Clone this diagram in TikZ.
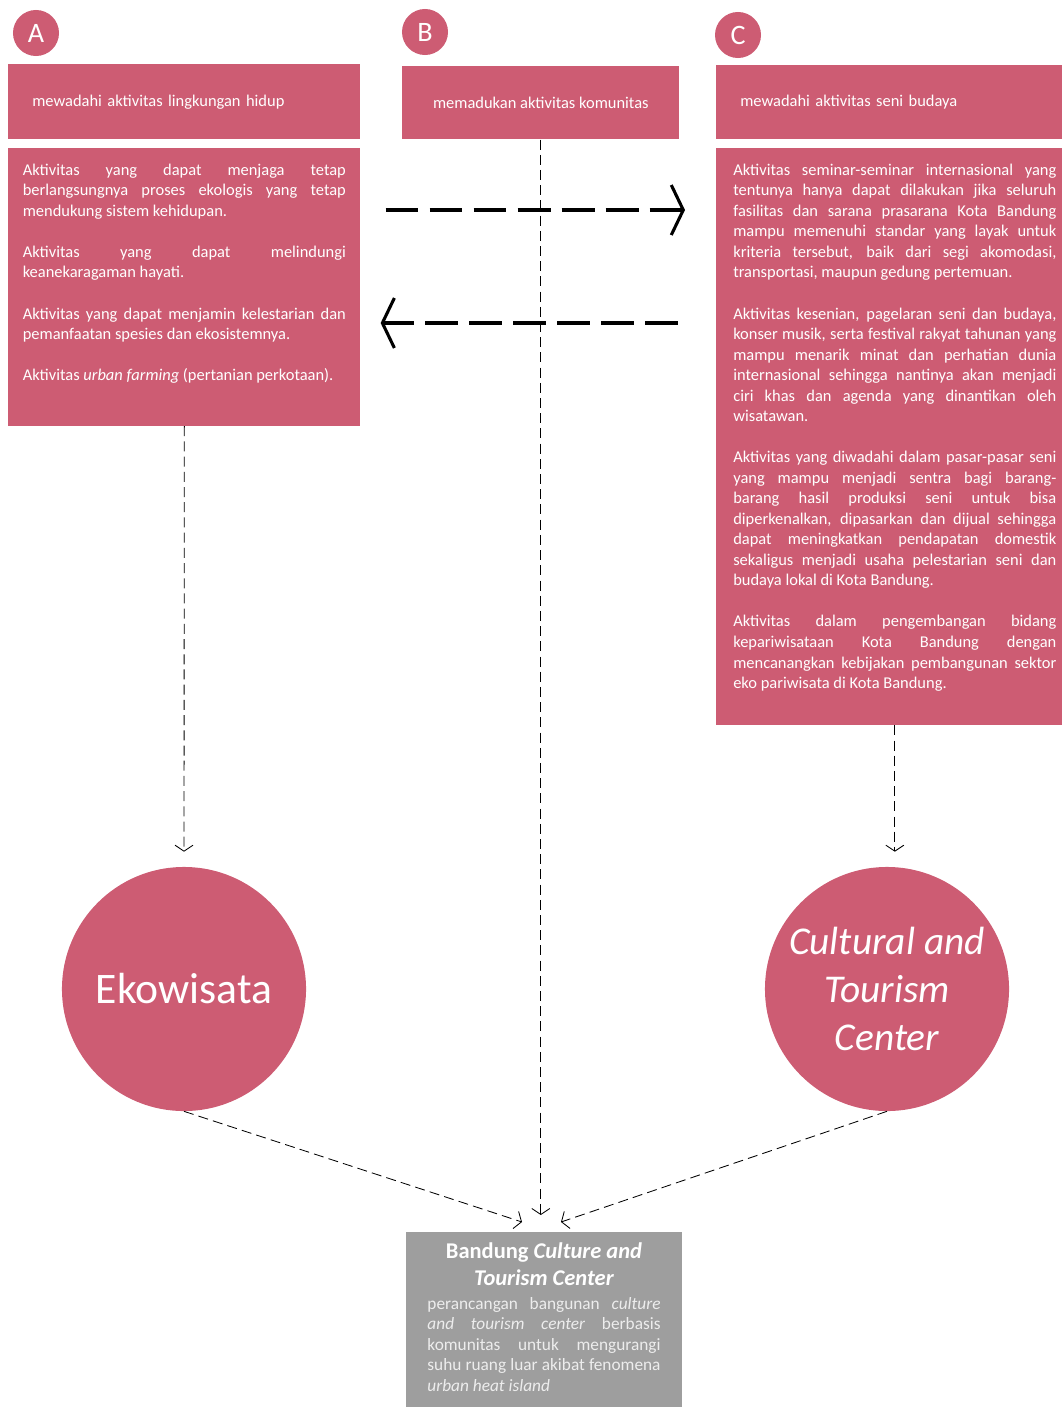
\documentclass[tikz,border=0pt]{standalone}
\usepackage{fontspec}
\setmainfont{Carlito}
\usepackage{xcolor}
\usepackage{tikz}
\usetikzlibrary{arrows.meta,positioning}
\definecolor{merah}{RGB}{205,92,115}
\definecolor{abu}{RGB}{158,158,158}
\begin{document}
\begin{tikzpicture}[x=0.025cm,y=-0.025cm,node distance=0.2cm]
\tikzstyle{huruf}=[circle,fill=merah,text=white,minimum size=1.15cm,inner sep=0pt,font=\fontsize{20}{20}\selectfont]
\tikzstyle{judul}=[rectangle,fill=merah,text=white,inner sep=0pt,font=\fontsize{11.7}{14.6}\selectfont]
\tikzstyle{kotak}=[rectangle,fill=merah,text=white,inner ysep=0.4cm,font=\fontsize{11.7}{14.6}\selectfont]
\tikzstyle{bulat}=[circle,fill=merah,text=white,minimum size=6.1cm,inner sep=0pt]
\tikzstyle{putus}=[dash pattern=on 0.25cm off 0.13cm,line width=0.6pt,-{Straight Barb[length=0.15cm,width=0.45cm]}]
\tikzstyle{tebal}=[dash pattern=on 0.82cm off 0.28cm,line width=2.2pt,-{Straight Barb[length=0.3cm,width=1.25cm]}]
\useasboundingbox (0,0) rectangle (1061,1407);
\node[huruf] (la) at (36,33) {A};
\node[huruf] (lb) at (425,32) {B};
\node[huruf] (lc) at (738,35) {C};
\node[judul,anchor=north west,minimum width=8.8cm,minimum height=1.875cm,text width=7.6cm,align=left] (ahead) at (8,64) {mewadahi aktivitas lingkungan hidup};
\node[judul,anchor=north west,minimum width=6.925cm,minimum height=1.825cm] (bhead) at (402,66) {memadukan aktivitas komunitas};
\node[judul,anchor=north west,minimum width=8.925cm,minimum height=1.85cm,text width=7.725cm,align=left] (chead) at (716,65) {mewadahi aktivitas seni budaya};
\node[kotak,inner xsep=0.3625cm,below=of ahead] (abody) {\parbox[t][6.15cm][t]{8.075cm}{%
Aktivitas yang dapat menjaga tetap\linebreak
berlangsungnya proses ekologis yang tetap\linebreak
mendukung sistem kehidupan.\\[14.6pt]
Aktivitas yang dapat melindungi\linebreak
keanekaragaman hayati.\\[14.6pt]
Aktivitas yang dapat menjamin kelestarian dan\linebreak
pemanfaatan spesies dan ekosistemnya.\\[14.6pt]
Aktivitas \emph{urban farming} (pertanian perkotaan).}};
\node[kotak,inner xsep=0.425cm,below=of chead] (cbody) {\parbox[t][13.625cm][t]{8.075cm}{%
Aktivitas seminar-seminar internasional yang\linebreak
tentunya hanya dapat dilakukan jika seluruh\linebreak
fasilitas dan sarana prasarana Kota Bandung\linebreak
mampu memenuhi standar yang layak untuk\linebreak
kriteria tersebut, baik dari segi akomodasi,\linebreak
transportasi, maupun gedung pertemuan.\\[14.6pt]
Aktivitas kesenian, pagelaran seni dan budaya,\linebreak
konser musik, serta festival rakyat tahunan yang\linebreak
mampu menarik minat dan perhatian dunia\linebreak
internasional sehingga nantinya akan menjadi\linebreak
ciri khas dan agenda yang dinantikan oleh\linebreak
wisatawan.\\[14.6pt]
Aktivitas yang diwadahi dalam pasar-pasar seni\linebreak
yang mampu menjadi sentra bagi barang-\linebreak
barang hasil produksi seni untuk bisa\linebreak
diperkenalkan, dipasarkan dan dijual sehingga\linebreak
dapat meningkatkan pendapatan domestik\linebreak
sekaligus menjadi usaha pelestarian seni dan\linebreak
budaya lokal di Kota Bandung.\\[14.6pt]
Aktivitas dalam pengembangan bidang\linebreak
kepariwisataan Kota Bandung dengan\linebreak
mencanangkan kebijakan pembangunan sektor\linebreak
eko pariwisata di Kota Bandung.}};
\node[bulat,font=\fontsize{31}{32}\selectfont] (eko) at (184,989) {Ekowisata};
\node[bulat,align=center,font=\fontsize{28}{34}\selectfont\itshape] (cult) at (887,989) {Cultural and\\Tourism\\Center};
\node[rectangle,fill=abu,text=white,anchor=north,inner xsep=0.5375cm,inner ysep=0.25cm] (pusat) at (544,1232) {\parbox[t][4.2cm][t]{5.825cm}{%
{\centering\fontsize{16}{19.2}\selectfont\bfseries Bandung \emph{Culture and}\\\emph{Tourism Center}\par}\vspace{2.5pt}
\color{white!93!black}\fontsize{12.3}{14.6}\selectfont
perancangan bangunan \emph{culture}\linebreak
\emph{and tourism center} berbasis\linebreak
komunitas untuk mengurangi\linebreak
suhu ruang luar akibat fenomena\linebreak
\emph{urban heat island}}};
\draw[putus,shorten >=0.375cm] (abody.south) -- (eko.north);
\draw[putus,shorten >=0.375cm] (cbody.south) -- (cbody.south |- cult.north);
\draw[putus,shorten >=0.425cm] (bhead.south) -- (bhead.south |- pusat.north);
\coordinate (kiri) at ([shift={(-22,-10)}]pusat.north);
\coordinate (kanan) at ([shift={(17,-10)}]pusat.north);
\draw[putus] (eko.south) -- (kiri);
\draw[putus] (cult.south) -- (kanan);
\draw[tebal,shorten <=0.625cm,shorten >=0.775cm] (abody.east |- 0,210) -- (cbody.west |- 0,210);
\draw[tebal,shorten <=0.95cm,shorten >=0.5cm] (cbody.west |- 0,323) -- (abody.east |- 0,323);
\end{tikzpicture}
\end{document}
